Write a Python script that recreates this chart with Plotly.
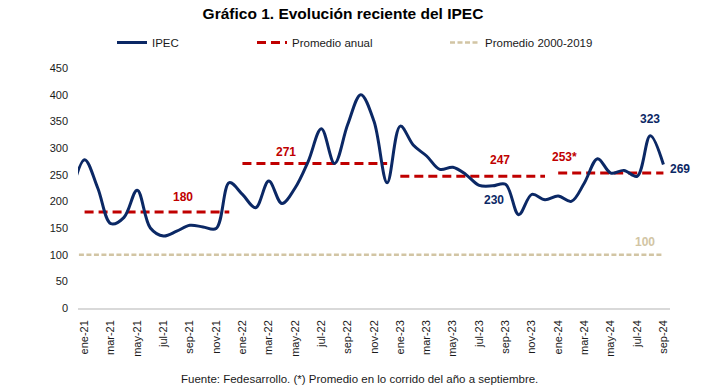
import plotly.graph_objects as go

# ---- data -----------------------------------------------------------------
months = ["dic-20",
          "ene-21", "feb-21", "mar-21", "abr-21", "may-21", "jun-21", "jul-21", "ago-21", "sep-21", "oct-21", "nov-21", "dic-21",
          "ene-22", "feb-22", "mar-22", "abr-22", "may-22", "jun-22", "jul-22", "ago-22", "sep-22", "oct-22", "nov-22", "dic-22",
          "ene-23", "feb-23", "mar-23", "abr-23", "may-23", "jun-23", "jul-23", "ago-23", "sep-23", "oct-23", "nov-23", "dic-23",
          "ene-24", "feb-24", "mar-24", "abr-24", "may-24", "jun-24", "jul-24", "ago-24", "sep-24"]
ipec = [213,
        278, 225, 158, 170, 221, 150, 135, 144, 155, 152, 149, 235,
        213, 188, 238, 196, 225, 275, 336, 271, 344, 400, 350, 235,
        341, 305, 285, 260, 264, 250, 230, 229, 232, 175, 213, 203,
        210, 200, 235, 280, 253, 258, 247, 323, 269]
annual_avg_years = ["2021", "2022", "2023", "2024"]
annual_avg_values = [180, 271, 247, 253]
annual_avg_labels = ["180", "271", "247", "253*"]
hist_avg = 100
tick_labels = ["ene-21", "mar-21", "may-21", "jul-21", "sep-21", "nov-21",
               "ene-22", "mar-22", "may-22", "jul-22", "sep-22", "nov-22",
               "ene-23", "mar-23", "may-23", "jul-23", "sep-23", "nov-23",
               "ene-24", "mar-24", "may-24", "jul-24", "sep-24"]

# index: ene-21 = 0
xidx = [i - 1 for i in range(len(months))]
pos = {m: x for m, x in zip(months, xidx)}

NAVY = "#0b2865"
RED = "#c00000"
BEIGE = "#d2c5a4"
FONT = "Liberation Sans, Arial, sans-serif"

fig = go.Figure()

# historical average
fig.add_trace(go.Scatter(
    x=xidx, y=[hist_avg] * len(xidx), mode="lines",
    line=dict(color=BEIGE, width=2.5, dash="5px,2.5px"),
    name="Promedio 2000-2019", legend="legend3", hoverinfo="skip"))

# annual averages
for k, (yr, val) in enumerate(zip(annual_avg_years, annual_avg_values)):
    xs = [pos[m] for m in months if m.endswith(yr[2:])]
    fig.add_trace(go.Scatter(
        x=xs, y=[val] * len(xs), mode="lines",
        line=dict(color=RED, width=3, dash="9px,5px"),
        name="Promedio anual", legend="legend2", showlegend=(k == 0),
        hoverinfo="skip"))

# IPEC
fig.add_trace(go.Scatter(
    x=xidx, y=ipec, mode="lines",
    line=dict(color=NAVY, width=3, shape="spline", smoothing=1.0),
    name="IPEC", legend="legend"))

# ---- annotations ----------------------------------------------------------
ann = []
avg_label_pos = [(7.45, 208), (15.3, 292), (31.6, 278), (36.5, 283)]
for (ax, ay), txt in zip(avg_label_pos, annual_avg_labels):
    ann.append(dict(x=ax, y=ay, xref="x", yref="y", text=f"<b>{txt}</b>",
                    showarrow=False, font=dict(color=RED, size=12, family=FONT)))
ann.append(dict(x=31.1, y=202, xref="x", yref="y", text="<b>230</b>", showarrow=False,
                font=dict(color=NAVY, size=12, family=FONT)))
ann.append(dict(x=43, y=355, xref="x", yref="y", text="<b>323</b>", showarrow=False,
                font=dict(color=NAVY, size=12, family=FONT)))
ann.append(dict(x=44, y=260, xref="x", yref="y", xshift=17, text="<b>269</b>", showarrow=False,
                font=dict(color=NAVY, size=12, family=FONT)))
ann.append(dict(x=42.6, y=124, xref="x", yref="y", text="<b>100</b>", showarrow=False,
                font=dict(color=BEIGE, size=12, family=FONT)))
ann.append(dict(x=(359 - 78) / 592, y=(308.5 - 379) / 240, xref="paper", yref="paper",
                text="Fuente: Fedesarrollo. (*) Promedio en lo corrido del año a septiembre.",
                showarrow=False, yanchor="middle",
                font=dict(color="#1a1a1a", size=11.5, family=FONT)))

leg_common = dict(orientation="h", yanchor="middle", xanchor="left",
                  bgcolor="rgba(0,0,0,0)", font=dict(size=11.5, color="#1a1a1a", family=FONT),
                  itemwidth=30)
ly = 1 + (68.5 - 43) / 240

fig.update_layout(
    width=708, height=389,
    margin=dict(l=78, r=38, t=68, b=81),
    paper_bgcolor="white", plot_bgcolor="white",
    font=dict(family=FONT, color="#1a1a1a"),
    title=dict(text="<b>Gráfico 1. Evolución reciente del IPEC</b>",
               x=343 / 708, xref="container", xanchor="center",
               y=1 - 14 / 389, yref="container", yanchor="middle",
               font=dict(size=15.5, color="#000000", family=FONT)),
    legend=dict(x=(112 - 78) / 592, y=ly, **leg_common),
    legend2=dict(x=(252 - 78) / 592, y=ly, **leg_common),
    legend3=dict(x=(445 - 78) / 592, y=ly, **leg_common),
    annotations=ann,
    showlegend=True,
)

fig.update_xaxes(
    range=[-0.5, 44.5],
    tickmode="array",
    tickvals=[pos[m] for m in tick_labels],
    ticktext=tick_labels,
    tickangle=-90,
    ticks="",
    ticklabelstandoff=6,
    tickfont=dict(size=11, color="#1a1a1a", family=FONT),
    showgrid=False, zeroline=False,
    showline=True, linecolor="#d9d9d9", linewidth=1.5,
)
fig.update_yaxes(
    range=[0, 450],
    tickmode="array",
    tickvals=list(range(0, 451, 50)),
    ticks="",
    ticklabelstandoff=9,
    tickfont=dict(size=11, color="#1a1a1a", family=FONT),
    showgrid=False, zeroline=False, showline=False,
)

fig.write_html("out.html", config={"displayModeBar": False},
               post_script="document.body.style.margin='0';document.body.style.overflow='hidden';")
